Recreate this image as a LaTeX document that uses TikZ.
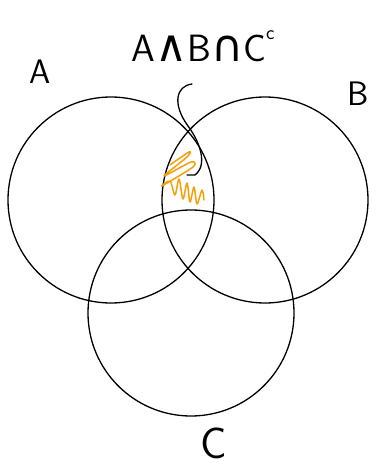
\documentclass[tikz,border=0pt]{standalone}
\usepackage{fontspec}
\usepackage{xcolor}
\usepackage{tikz}
\usetikzlibrary{positioning}
\newfontfamily\symfont{DejaVu Sans}
\definecolor{scribbleorange}{RGB}{245,160,10}

\begin{document}
\begin{tikzpicture}[
    x=1pt, y=-1pt,
    setcircle/.style={circle, draw, line width=1.3pt, minimum size=206pt, inner sep=0pt},
    setlabel/.style={font=\sffamily\fontsize{34}{34}\selectfont, inner sep=0pt},
    curl/.style={line width=1.3pt, line cap=round}
]
\useasboundingbox (0,0) rectangle (376,468);

% Sets
\node[setcircle] (setA) at (111,200) {};
\node[setcircle] (setB) at (265,200) {};
\node[setcircle] (setC) at (191,313) {};

% Labels
\node[setlabel] (labA) at (40,72) {A};
\node[setlabel] (labB) at (358,94) {B};
\node[setlabel, font=\sffamily\fontsize{44}{44}\selectfont] (labC) at (214,443) {C};
\node[setlabel, font=\sffamily\fontsize{38}{38}\selectfont] (region) at (203,46)
    {A{\symfont\fontsize{44}{44}\selectfont∧}B{\symfont\fontsize{44}{44}\selectfont∩}C\raisebox{22pt}{\fontsize{20}{20}\selectfont c}};

% Marked region
\coordinate (hook) at (187,175);
\draw[curl] (192,84) .. controls (176,86) and (172,104) .. (188,126)
    .. controls (200,142) and (208,165) .. (195,175) -- (hook);
\draw[scribbleorange, line width=1.5pt, line cap=round, line join=round]
    plot[smooth, tension=0.5] coordinates {
    (170,165) (189,152) (187,157) (164,176) (191,162) (193,167)
    (162,186) (170,181) (175,195) (179,179) (183,199) (187,183)
    (190,202) (194,187) (197,204) (202,190) (204,200)};

\end{tikzpicture}
\end{document}
